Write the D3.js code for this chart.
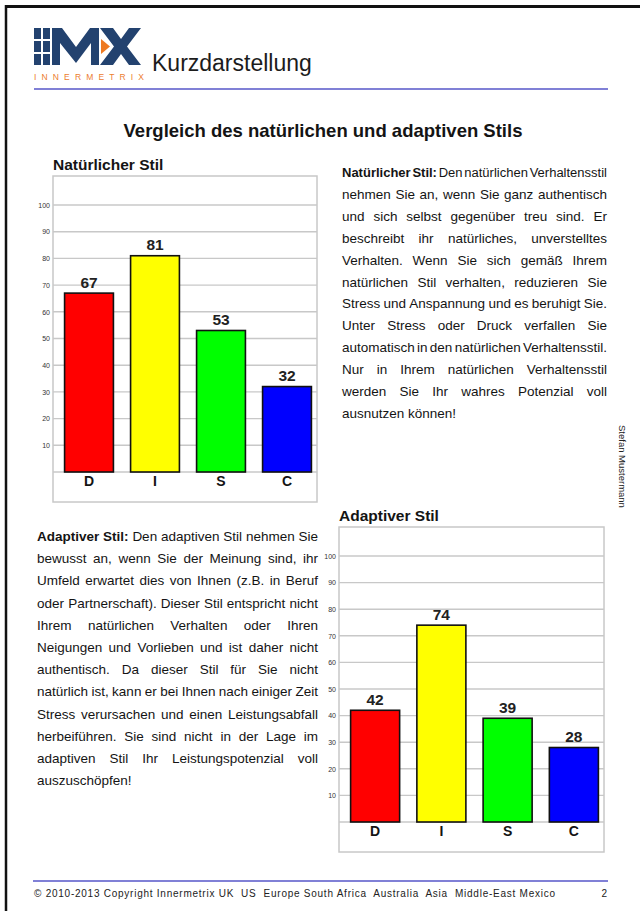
<!DOCTYPE html>
<html>
<head>
<meta charset="utf-8">
<script src="https://cdn.jsdelivr.net/npm/d3@7"></script>
<style>
  html, body { margin: 0; padding: 0; background: #fff; }
  svg { display: block; font-family: 'Liberation Sans', Arial, sans-serif; }
</style>
</head>
<body>
<svg id="page" width="640" height="911"></svg>
<script>
// ---------- data ----------
const categories = ["D", "I", "S", "C"];
const naturalValues = [67, 81, 53, 32];
const adaptiveValues = [42, 74, 39, 28];
const barColors = ["#ff0000", "#ffff00", "#00ff00", "#0000ff"];
const yTicks = [10, 20, 30, 40, 50, 60, 70, 80, 90, 100];
const gridValues = [0, 10, 20, 30, 40, 50, 60, 70, 80, 90, 100];

const headerTitle = "Kurzdarstellung";
const mainTitle = "Vergleich des natürlichen und adaptiven Stils";
const naturalTitle = "Natürlicher Stil";
const adaptiveTitle = "Adaptiver Stil";
const sideName = "Stefan Mustermann";
const footerText = "© 2010-2013 Copyright Innermetrix UK  US  Europe South Africa  Australia  Asia  Middle-East Mexico";
const pageNumber = "2";

const naturalParagraph = [
  "**Natürlicher **Stil:** Den natürlichen Verhaltensstil",
  "nehmen Sie an, wenn Sie ganz authentisch",
  "und sich selbst gegenüber treu sind. Er",
  "beschreibt ihr natürliches, unverstelltes",
  "Verhalten. Wenn Sie sich gemäß Ihrem",
  "natürlichen Stil verhalten, reduzieren Sie",
  "Stress und Anspannung und es beruhigt Sie.",
  "Unter Stress oder Druck verfallen Sie",
  "automatisch in den natürlichen Verhaltensstil.",
  "Nur in Ihrem natürlichen Verhaltensstil",
  "werden Sie Ihr wahres Potenzial voll",
  "ausnutzen können!"
];
const adaptiveParagraph = [
  "**Adaptiver **Stil:** Den adaptiven Stil nehmen Sie",
  "bewusst an, wenn Sie der Meinung sind, ihr",
  "Umfeld erwartet dies von Ihnen (z.B. in Beruf",
  "oder Partnerschaft). Dieser Stil entspricht nicht",
  "Ihrem natürlichen Verhalten oder Ihren",
  "Neigungen und Vorlieben und ist daher nicht",
  "authentisch. Da dieser Stil für Sie nicht",
  "natürlich ist, kann er bei Ihnen nach einiger Zeit",
  "Stress verursachen und einen Leistungsabfall",
  "herbeiführen. Sie sind nicht in der Lage im",
  "adaptiven Stil Ihr Leistungspotenzial voll",
  "auszuschöpfen!"
];

// ---------- page ----------
const svg = d3.select("#page");
const ink = "#141414";
const rule = "#5656c8";

// page border (top + left)
svg.append("line").attr("x1", 5).attr("x2", 640).attr("y1", 6.5).attr("y2", 6.5)
  .attr("stroke", "#111").attr("stroke-width", 3);
svg.append("line").attr("x1", 6).attr("x2", 6).attr("y1", 5).attr("y2", 911)
  .attr("stroke", "#111").attr("stroke-width", 2.5);

// ---------- logo ----------
const logo = svg.append("g");
const navy = "#23426f";
[[34, 41], [43, 50]].forEach(([a, b]) => {
  [[28, 39], [41, 52], [54, 65]].forEach(([c, d]) => {
    logo.append("rect").attr("x", a).attr("y", c).attr("width", b - a).attr("height", d - c).attr("fill", navy);
  });
});
logo.append("path").attr("fill", navy)
  .attr("d", "M52,65 L52,28 L62,28 L76,47 L90,28 L99,28 L99,65 L91,65 L91,43 L76,63 L60,43 L60,65 Z");
logo.append("path").attr("fill", navy)
  .attr("d", "M100,28 L113,28 L121,39 L129,28 L141,28 L127,46.5 L141,65 L129,65 L121,54 L113,65 L100,65 L114,46.5 Z");
logo.append("path").attr("fill", "#ee7a22").attr("d", "M101,39 L110,46.5 L101,54 Z");
logo.append("text").attr("x", 34).attr("y", 79.5).attr("font-size", 8.5).attr("fill", "#ec7d2f")
  .attr("textLength", 110).attr("lengthAdjust", "spacing").text("INNERMETRIX");

svg.append("text").attr("x", 152).attr("y", 71).attr("font-size", 23).attr("fill", "#1c1c1c").text(headerTitle);
svg.append("line").attr("x1", 34).attr("x2", 608).attr("y1", 89).attr("y2", 89)
  .attr("stroke", rule).attr("stroke-width", 1.5);

// main title
svg.append("text").attr("x", 323).attr("y", 137).attr("text-anchor", "middle")
  .attr("font-size", 18.5).attr("font-weight", "bold").attr("fill", ink).text(mainTitle);

// ---------- charts ----------
function drawChart(box, values, title) {
  const g = svg.append("g");
  const y = d3.scaleLinear().domain([0, 100]).range([box.y1 - 30, box.y0 + 29]);
  const x = d3.scaleBand().domain(categories).range([box.x0 + 3, box.x1 + 3])
    .paddingInner(0.26).paddingOuter(0.13);

  g.append("text").attr("x", box.x0).attr("y", box.y0 - 6).attr("font-size", 15.5)
    .attr("font-weight", "bold").attr("fill", ink).text(title);

  g.append("rect").attr("x", box.x0).attr("y", box.y0).attr("width", box.x1 - box.x0)
    .attr("height", box.y1 - box.y0).attr("fill", "#fff").attr("stroke", "#c8c8c8").attr("stroke-width", 1.5);

  g.selectAll("line.grid").data(gridValues).join("line").attr("class", "grid")
    .attr("x1", box.x0).attr("x2", box.x1)
    .attr("y1", d => y(d)).attr("y2", d => y(d))
    .attr("stroke", "#c8c8c8").attr("stroke-width", 1.4);

  const yAxis = g.append("g").attr("transform", `translate(${box.x0},0)`)
    .call(d3.axisLeft(y).tickValues(yTicks).tickSize(0).tickPadding(3));
  yAxis.select(".domain").remove();
  yAxis.selectAll("text").attr("font-size", 7).attr("fill", "#333")
    .attr("font-family", "'Liberation Sans', Arial, sans-serif");

  g.selectAll("rect.bar").data(values).join("rect").attr("class", "bar")
    .attr("x", (d, i) => x(categories[i]))
    .attr("width", x.bandwidth())
    .attr("y", d => y(d))
    .attr("height", d => y(0) - y(d))
    .attr("fill", (d, i) => barColors[i])
    .attr("stroke", "#111").attr("stroke-width", 1.6);

  g.selectAll("text.val").data(values).join("text").attr("class", "val")
    .attr("x", (d, i) => x(categories[i]) + x.bandwidth() / 2)
    .attr("y", d => y(d) - 5.5)
    .attr("text-anchor", "middle").attr("font-size", 15.5).attr("font-weight", "bold")
    .attr("fill", "#222").text(d => d);

  const xAxis = g.append("g").attr("transform", `translate(0,${y(0)})`)
    .call(d3.axisBottom(x).tickSize(0).tickPadding(4));
  xAxis.select(".domain").remove();
  xAxis.selectAll("text").attr("font-size", 14).attr("font-weight", "bold").attr("fill", ink)
    .attr("font-family", "'Liberation Sans', Arial, sans-serif");
}

drawChart({ x0: 53, x1: 317, y0: 176, y1: 502 }, naturalValues, naturalTitle);
drawChart({ x0: 339, x1: 604, y0: 527, y1: 852 }, adaptiveValues, adaptiveTitle);

// ---------- justified paragraphs ----------
function parseLine(line) {
  const tokens = [];
  let bold = false;
  line.split(" ").forEach(w => {
    let word = w;
    let b = bold;
    if (word.startsWith("**")) { bold = true; b = true; word = word.slice(2); }
    if (word.endsWith("**")) { word = word.slice(0, -2); b = true; bold = false; }
    if (word.includes("**")) { word = word.replace("**", ""); b = true; }
    tokens.push({ w: word, b });
  });
  return tokens;
}

function drawParagraph(lines, x0, x1, y0, lh) {
  const g = svg.append("g").attr("font-size", 13.5).attr("fill", ink);
  const width = x1 - x0;
  const probe = g.append("text").text("a b");
  const spaceW = probe.node().getComputedTextLength() - 2 * g.append("text").text("a").node().getComputedTextLength();
  g.selectAll("text").remove();
  lines.forEach((line, i) => {
    const tokens = parseLine(line);
    const t = g.append("text").attr("y", y0 + i * lh);
    const spans = tokens.map(tok => t.append("tspan")
      .attr("font-weight", tok.b ? "bold" : "normal").text(tok.w));
    const widths = spans.map(s => s.node().getComputedTextLength());
    const sum = d3.sum(widths);
    const n = tokens.length;
    const last = i === lines.length - 1;
    let gap = last ? spaceW : (width - sum) / Math.max(1, n - 1);
    let scale = 1;
    if (!last && gap < 1.8) { gap = 1.8; scale = width / (sum + gap * (n - 1)); }
    t.attr("transform", `translate(${x0},0) scale(${scale},1)`);
    let cx = 0;
    spans.forEach((s, k) => { s.attr("x", cx); cx += widths[k] + gap; });
  });
}

drawParagraph(naturalParagraph, 342, 607, 177, 21.9);
drawParagraph(adaptiveParagraph, 37, 318, 541, 22.2);

// side name
svg.append("text").attr("transform", "translate(619,425) rotate(90)")
  .attr("font-size", 9.5).attr("fill", "#222").text(sideName);

// ---------- footer ----------
svg.append("line").attr("x1", 33).attr("x2", 608).attr("y1", 881).attr("y2", 881)
  .attr("stroke", rule).attr("stroke-width", 1.5);
svg.append("text").attr("x", 34).attr("y", 897).attr("font-size", 10).attr("fill", "#222")
  .attr("xml:space", "preserve").attr("textLength", 521).attr("lengthAdjust", "spacing").text(footerText);
svg.append("text").attr("x", 607).attr("y", 897).attr("text-anchor", "end").attr("font-size", 10)
  .attr("fill", "#222").text(pageNumber);
</script>
</body>
</html>
